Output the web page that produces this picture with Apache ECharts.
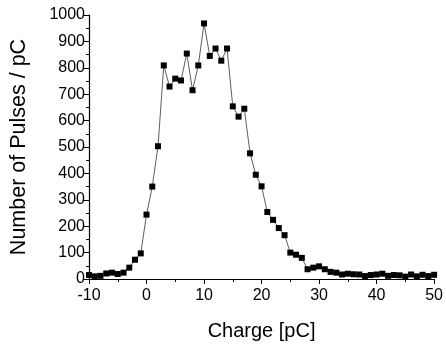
<!DOCTYPE html>
<html>
<head>
<meta charset="utf-8">
<script src="https://cdn.jsdelivr.net/npm/echarts@6/dist/echarts.min.js"></script>
<style>html,body{margin:0;padding:0;background:#fff;}#c{width:446px;height:346px;}</style>
</head>
<body>
<div id="c"></div>
<script>
const charge = [-10,-9,-8,-7,-6,-5,-4,-3,-2,-1,0,1,2,3,4,5,6,7,8,9,10,11,12,13,14,15,16,17,18,19,20,21,22,23,24,25,26,27,28,29,30,31,32,33,34,35,36,37,38,39,40,41,42,43,44,45,46,47,48,49,50];
const pulses = [15,10,12,21,24,19,24,43,73,97,244,350,503,809,729,759,752,854,715,809,968,845,873,827,873,654,615,645,476,395,351,254,224,193,166,100,92,80,37,43,48,37,27,24,17,20,18,17,11,15,17,20,12,15,14,9,17,10,16,11,16];
const xTicks = {min: -10, max: 50, interval: 10};
const yTicks = {min: 0, max: 1000, interval: 100};

const chart = echarts.init(document.getElementById('c'), null, {renderer: 'canvas'});
const font = 'Liberation Sans, Arial, sans-serif';
chart.setOption({
  animation: false,
  backgroundColor: '#fff',
  grid: {left: 85.5, right: 10, top: 15, bottom: 64},
  xAxis: {
    type: 'value', min: xTicks.min, max: xTicks.max, interval: xTicks.interval,
    name: 'Charge [pC]', nameLocation: 'middle', nameGap: 42,
    nameTextStyle: {fontFamily: font, fontSize: 20, color: '#000'},
    axisLine: {show: true, onZero: false, lineStyle: {color: '#000', width: 1.2}},
    axisTick: {show: true, inside: false, length: 5, lineStyle: {color: '#000', width: 1}},
    minorTick: {show: true, splitNumber: 2, length: 3, lineStyle: {color: '#000', width: 1}},
    axisLabel: {fontFamily: font, fontSize: 16, color: '#000', margin: 9},
    splitLine: {show: false}
  },
  yAxis: {
    type: 'value', min: yTicks.min, max: yTicks.max, interval: yTicks.interval,
    name: 'Number of Pulses / pC', nameLocation: 'middle', nameGap: 59,
    nameTextStyle: {fontFamily: font, fontSize: 21.5, color: '#000'},
    axisLine: {show: true, onZero: false, lineStyle: {color: '#000', width: 1.2}},
    axisTick: {show: true, inside: false, length: 5, lineStyle: {color: '#000', width: 1}},
    minorTick: {show: true, splitNumber: 2, length: 3, lineStyle: {color: '#000', width: 1}},
    axisLabel: {fontFamily: font, fontSize: 16, color: '#000', margin: 4, formatter: v => String(v)},
    splitLine: {show: false}
  },
  series: [{
    type: 'line',
    data: charge.map((c, i) => [c, pulses[i]]),
    symbol: 'rect', symbolSize: 6,
    itemStyle: {color: '#000'},
    lineStyle: {color: '#333', width: 0.8},
    clip: false
  }]
});
</script>
</body>
</html>
